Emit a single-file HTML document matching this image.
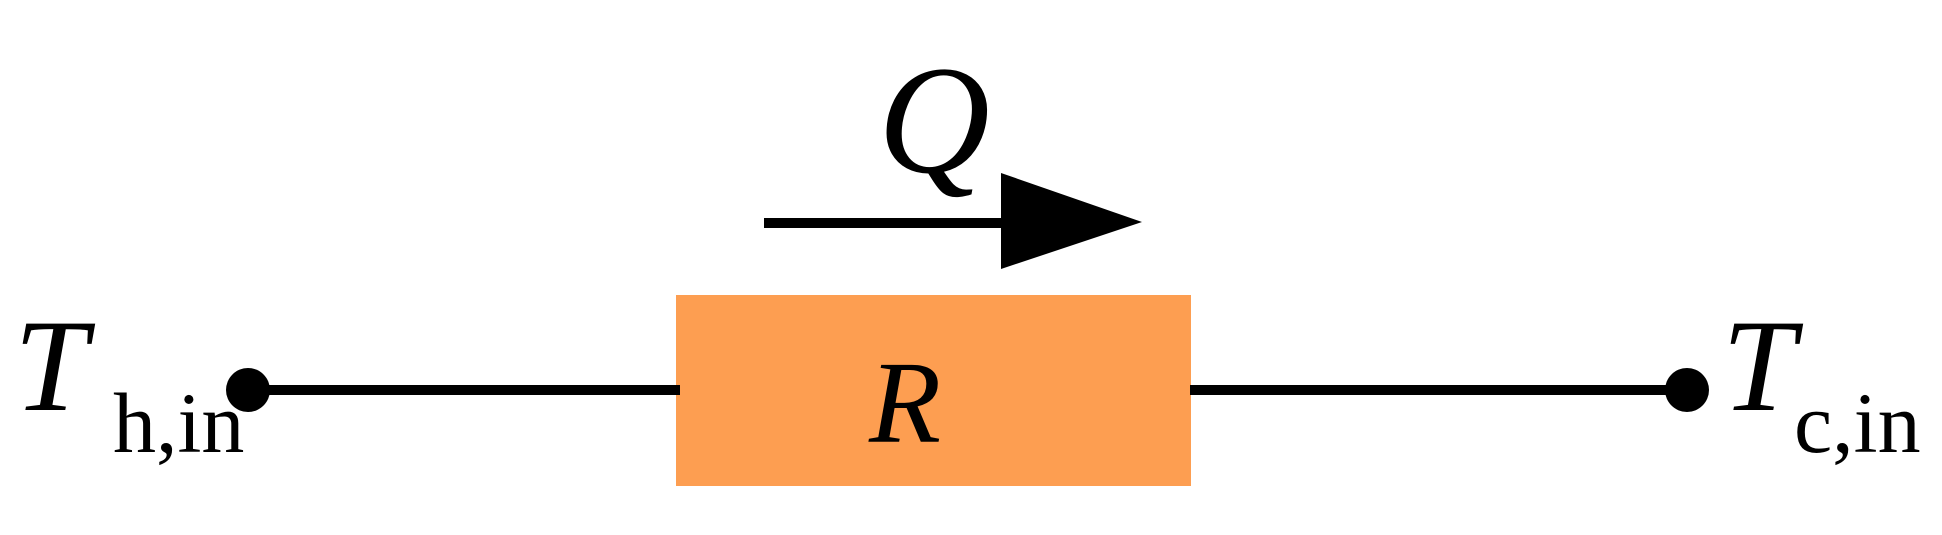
<!DOCTYPE html>
<html><head><style>
html,body{margin:0;padding:0;background:#fff;}
svg{display:block}
</style></head><body>
<svg width="1942" height="535" viewBox="0 0 1942 535">
<rect x="676" y="295" width="515" height="191" fill="#fd9e51"/>
<line x1="248" y1="390" x2="680" y2="390" stroke="#000" stroke-width="10"/>
<line x1="1190" y1="390" x2="1687" y2="390" stroke="#000" stroke-width="10"/>
<circle cx="248" cy="390" r="22" fill="#000"/>
<circle cx="1687" cy="390" r="22" fill="#000"/>
<line x1="764" y1="223" x2="1005" y2="223" stroke="#000" stroke-width="10"/>
<polygon points="1001,173 1142,222 1001,269" fill="#000"/>
<g font-family="Liberation Serif, serif" style="font-family:'Liberation Serif',serif" fill="#000">
<text x="878" y="172" font-size="155" font-style="italic">Q</text>
<text x="869" y="442" font-size="118" font-style="italic">R</text>
<text x="14" y="410" font-size="132" font-style="italic">T</text>
<text x="113" y="452" font-size="86">h,in</text>
<text x="1722" y="410" font-size="132" font-style="italic">T</text>
<text x="1794" y="452" font-size="86">c,in</text>
</g>
</svg>
</body></html>
